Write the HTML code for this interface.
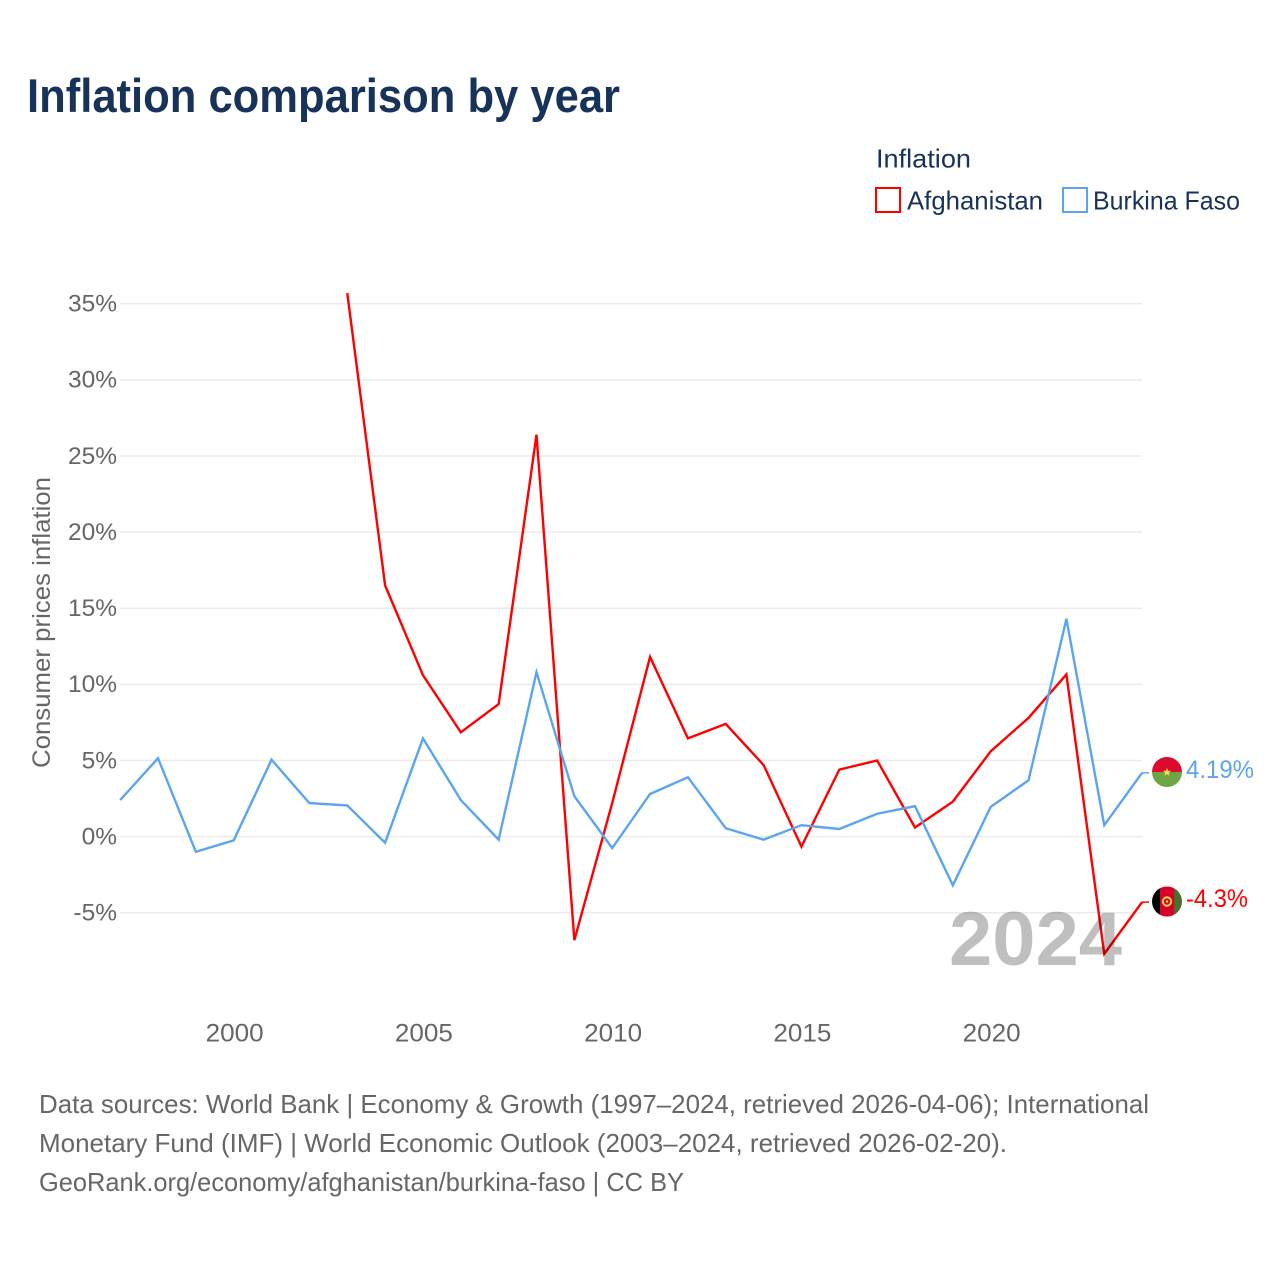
<!DOCTYPE html>
<html lang="en">
<head>
<meta charset="utf-8">
<title>Inflation comparison by year</title>
<style>
html,body{margin:0;padding:0;background:#fff;width:1280px;height:1280px;overflow:hidden}
svg{display:block}
text{font-family:"Liberation Sans",sans-serif}
</style>
</head>
<body>
<svg id="chart" xmlns="http://www.w3.org/2000/svg" width="1280" height="1280" viewBox="0 0 1280 1280">
  <defs>
    <clipPath id="clip-bf"><circle cx="1167" cy="772" r="15"/></clipPath>
    <clipPath id="clip-af"><circle cx="1167" cy="901.5" r="15"/></clipPath>
  </defs>
  <text x="27" y="112" font-size="47" font-weight="700" fill="#17335a" textLength="593" lengthAdjust="spacingAndGlyphs">Inflation comparison by year</text>

  <g>
    <text x="876" y="167.5" font-size="26" fill="#17335a" textLength="95" lengthAdjust="spacingAndGlyphs">Inflation</text>
    <g>
      <rect x="876" y="188" width="24" height="24" fill="none" stroke="#ff0000" stroke-width="2"/>
      <text x="907" y="209.5" font-size="26" fill="#17335a" textLength="136" lengthAdjust="spacingAndGlyphs">Afghanistan</text>
    </g>
    <g>
      <rect x="1063" y="188" width="24" height="24" fill="none" stroke="#5aa5ee" stroke-width="2"/>
      <text x="1093" y="209.5" font-size="26" fill="#17335a" textLength="147" lengthAdjust="spacingAndGlyphs">Burkina Faso</text>
    </g>
  </g>

  <g id="grid"></g>
  <g id="yticks"></g>
  <g id="xticks"></g>
  <text transform="translate(50,768) rotate(-90)" font-size="25" fill="#666666" textLength="291" lengthAdjust="spacingAndGlyphs">Consumer prices inflation</text>

  <g id="series"></g>

  <text x="1122" y="965" text-anchor="end" font-size="76" font-weight="700" fill="#000000" fill-opacity="0.25" textLength="173" lengthAdjust="spacingAndGlyphs">2024</text>

  <g id="end-markers">
    <g clip-path="url(#clip-bf)">
      <rect x="1152" y="757" width="30" height="15" fill="#de0a2e"/>
      <rect x="1152" y="772" width="30" height="15" fill="#6da544"/>
      <polygon points="1167,768 1168.1,770.8 1171,770.9 1168.8,772.8 1169.5,775.7 1167,774.1 1164.5,775.7 1165.2,772.8 1163,770.9 1165.9,770.8" fill="#ffda44"/>
    </g>
    <g clip-path="url(#clip-af)">
      <rect x="1152" y="886" width="8" height="31" fill="#000000"/>
      <rect x="1160" y="886" width="14" height="31" fill="#d80027"/>
      <rect x="1174" y="886" width="8" height="31" fill="#496e2d"/>
      <circle cx="1167" cy="901.5" r="4.2" fill="none" stroke="#ffda44" stroke-width="2"/>
      <circle cx="1167" cy="901.5" r="1.2" fill="#ffda44"/>
    </g>
    <text x="1186" y="778" font-size="25" fill="#5aa5ee" textLength="68" lengthAdjust="spacingAndGlyphs">4.19%</text>
    <text x="1186" y="907" font-size="25" fill="#ff0000" textLength="62" lengthAdjust="spacingAndGlyphs">-4.3%</text>
  </g>

  <g>
    <text x="39" y="1113" font-size="26" fill="#666666" textLength="1110" lengthAdjust="spacingAndGlyphs">Data sources: World Bank | Economy &amp; Growth (1997–2024, retrieved 2026-04-06); International</text>
    <text x="39" y="1152" font-size="26" fill="#666666" textLength="968" lengthAdjust="spacingAndGlyphs">Monetary Fund (IMF) | World Economic Outlook (2003–2024, retrieved 2026-02-20).</text>
    <text x="39" y="1191" font-size="26" fill="#666666" textLength="645" lengthAdjust="spacingAndGlyphs">GeoRank.org/economy/afghanistan/burkina-faso | CC BY</text>
  </g>
</svg>
<script>
const years = [1997,1998,1999,2000,2001,2002,2003,2004,2005,2006,2007,2008,2009,2010,2011,2012,2013,2014,2015,2016,2017,2018,2019,2020,2021,2022,2023,2024];
const afghanistan = [null,null,null,null,null,null,35.7,16.5,10.6,6.85,8.7,26.4,-6.8,2.2,11.8,6.45,7.4,4.7,-0.66,4.4,5.0,0.6,2.3,5.6,7.8,10.65,-7.7,-4.3];
const burkinaFaso = [2.4,5.15,-1.0,-0.25,5.05,2.2,2.05,-0.4,6.45,2.4,-0.2,10.8,2.65,-0.75,2.8,3.9,0.55,-0.2,0.75,0.5,1.5,2.0,-3.2,1.95,3.7,14.3,0.75,4.19];
const yTickValues = [-5,0,5,10,15,20,25,30,35];
const yTickLabels = ["-5%","0%","5%","10%","15%","20%","25%","30%","35%"];
const xTickValues = [2000,2005,2010,2015,2020];

const NS = "http://www.w3.org/2000/svg";
function xScale(year){ return 233.7 + (year - 2000) * 37.85; }
function yScale(v){ return 836.6 - v * 15.225; }
function make(tag, attrs, parent){
  const el = document.createElementNS(NS, tag);
  for (const k in attrs) el.setAttribute(k, attrs[k]);
  parent.appendChild(el);
  return el;
}

const grid = document.getElementById("grid");
const yticks = document.getElementById("yticks");
const xticks = document.getElementById("xticks");
const series = document.getElementById("series");

yTickValues.forEach(function(v, i){
  const line = make("line", {x1:120, x2:1142, y1:yScale(v), y2:yScale(v), stroke:"#ebebeb", "stroke-width":1.5}, grid);
  
  
  const label = make("text", {x:117, y:yScale(v)+7.8, "text-anchor":"end", "font-size":24.5, fill:"#666666"}, yticks);
  
  
  label.textContent = yTickLabels[i];
});

xTickValues.forEach(function(year){
  const label = make("text", {x:xScale(year)+0.9, y:1041.5, "text-anchor":"middle", "font-size":25, fill:"#666666", textLength:58, lengthAdjust:"spacingAndGlyphs"}, xticks);
  
  
  label.textContent = String(year);
});

function linePath(values){
  let d = "";
  values.forEach(function(v, i){
    if (v === null) return;
    d += (d ? "L" : "M") + xScale(years[i]).toFixed(2) + " " + yScale(v).toFixed(2);
  });
  return d;
}

const afghanLine = make("path", {d:linePath(afghanistan), fill:"none", stroke:"#ff0000", "stroke-width":2.4, "stroke-linejoin":"miter"}, series);



const burkinaLine = make("path", {d:linePath(burkinaFaso), fill:"none", stroke:"#5aa5ee", "stroke-width":2.4, "stroke-linejoin":"miter"}, series);



const lastIndex = years.length - 1;
const afghanLeader = make("line", {x1:xScale(years[lastIndex]), x2:1149, y1:yScale(afghanistan[lastIndex]), y2:yScale(afghanistan[lastIndex]), stroke:"#ff0000", "stroke-width":1.5}, series);



const burkinaLeader = make("line", {x1:xScale(years[lastIndex]), x2:1149, y1:yScale(burkinaFaso[lastIndex]), y2:yScale(burkinaFaso[lastIndex]), stroke:"#5aa5ee", "stroke-width":1.5}, series);


</script>
</body>
</html>
